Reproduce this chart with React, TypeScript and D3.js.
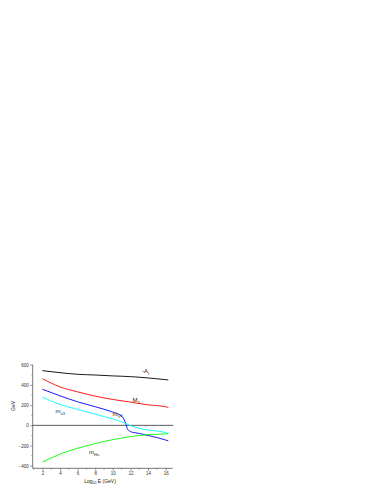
import { useRef, useEffect } from 'react'
import * as d3 from 'd3'

const W = 382
const H = 494

// log10 E (GeV) sample points
const energies = [2, 4, 6, 8, 10, 11, 12, 13, 14, 16, 16.3]
const aTop = [541, 521, 505, 498, 489, 486, 482, 476, 469, 452, 449]
const m3 = [462, 380, 331, 289, 256, 243, 230, 216, 203, 184, 177]
const mU3 = [279, 207, 157, 111, 62, 35, -3, -30, -46, -72, -85]
const mHu = [-364, -285, -226, -180, -141, -126, -111, -101, -92, -85, -82]

// m_Q3 has a sharp step near 10^11.5 GeV, so it gets its own sample points
const qEnergies = [2, 4, 6, 8, 10, 10.8, 11.3, 11.5, 11.65, 12, 13, 14, 16, 16.3]
const mQ3 = [357, 292, 233, 184, 131, 102, 55, 8, -34, -62, -80, -100, -145, -154]

const xTicks = [2, 4, 6, 8, 10, 12, 14, 16]
const yTicks = [-400, -200, 0, 200, 400, 600]

const series = [
  { name: 'A', xs: energies, values: aTop, color: '#000000' },
  { name: 'M3', xs: energies, values: m3, color: '#ff0000' },
  { name: 'mQ3', xs: qEnergies, values: mQ3, color: '#0000ff' },
  { name: 'mu3', xs: energies, values: mU3, color: '#00ffff' },
  { name: 'mHu', xs: energies, values: mHu, color: '#00ff00' },
]

const left = 32.7
const right = 172.7
const top = 364.7
const bottom = 468.3

const App = () => {
  const gRef = useRef<SVGGElement>(null)

  useEffect(() => {
    const svg = d3.select(gRef.current)
    svg.selectAll('*').remove()

    const x = d3.scaleLinear().domain([0.9, 16.8]).range([left, right])
    const y = d3.scaleLinear().domain([-425, 600]).range([bottom, top])

    const font = 'Arial, "Liberation Sans", sans-serif'

    // y axis
    const yAxis = d3.axisLeft(y).tickValues(yTicks).tickSize(2.5).tickPadding(1.5)
    const gy = svg.append('g').attr('transform', `translate(${left},0)`).call(yAxis)
    gy.select('.domain').attr('d', `M0,${bottom}V${top}`).attr('stroke', '#555').attr('stroke-width', 0.8)
    gy.selectAll('text').attr('font-size', 4.5).attr('font-family', font).attr('fill', '#333')
    gy.selectAll('.tick line').attr('stroke', '#555').attr('stroke-width', 0.6)
    svg.append('g').selectAll('line')
      .data(d3.range(-300, 600, 200))
      .join('line')
      .attr('x1', left - 1.5).attr('x2', left)
      .attr('y1', (d) => y(d)).attr('y2', (d) => y(d))
      .attr('stroke', '#555').attr('stroke-width', 0.5)

    // x axis
    const xAxis = d3.axisBottom(x).tickValues(xTicks).tickSize(2.5).tickPadding(1.5)
    const gx = svg.append('g').attr('transform', `translate(0,${bottom})`).call(xAxis)
    gx.select('.domain').attr('d', `M${left},0H${right}`).attr('stroke', '#555').attr('stroke-width', 0.8)
    gx.selectAll('text').attr('font-size', 4.5).attr('font-family', font).attr('fill', '#333')
    gx.selectAll('.tick line').attr('stroke', '#555').attr('stroke-width', 0.6)
    svg.append('g').selectAll('line')
      .data(d3.range(1, 17, 2))
      .join('line')
      .attr('x1', (d) => x(d)).attr('x2', (d) => x(d))
      .attr('y1', bottom).attr('y2', bottom + 1.5)
      .attr('stroke', '#555').attr('stroke-width', 0.5)

    // zero line
    svg.append('line')
      .attr('x1', left).attr('x2', right + 0.5)
      .attr('y1', y(0)).attr('y2', y(0))
      .attr('stroke', '#333').attr('stroke-width', 0.8)

    svg.append('g').selectAll('path')
      .data(series)
      .join('path')
      .attr('d', (s) => d3.line<number>()
        .x((_, i) => x(s.xs[i]))
        .y((v) => y(v))
        .curve(d3.curveMonotoneX)(s.values))
      .attr('fill', 'none')
      .attr('stroke', (s) => s.color)
      .attr('stroke-width', 0.9)
  }, [])

  const lab = { fontFamily: 'Arial, "Liberation Sans", sans-serif', fill: '#222' }

  return (
    <svg width={W} height={H}
      style={{ position: 'absolute', left: 0, top: 0, background: '#fff' }}>
      <g ref={gRef} />
      <text x={142} y={373} fontSize={6} style={lab}>-A<tspan fontSize={4} dy={1.5}>t</tspan></text>
      <text x={132.5} y={402} fontSize={6} style={lab}>M<tspan fontSize={4} dy={1.5}>3</tspan></text>
      <text x={112.5} y={415.5} fontSize={6} style={lab}>m<tspan fontSize={4} dy={1.5}>Q3</tspan></text>
      <text x={55.5} y={413} fontSize={6} style={lab}>m<tspan fontSize={4} dy={1.5}>u3</tspan></text>
      <text x={89} y={454} fontSize={6} style={lab}>m<tspan fontSize={4} dy={1.5}>Hu</tspan></text>
      <text x={0} y={0} fontSize={5} textAnchor="middle" style={lab}
        transform="translate(14.5,406) rotate(-90)">GeV</text>
      <text x={100} y={483} fontSize={5} textAnchor="middle" style={lab}>
        Log<tspan fontSize={3.5} dy={1}>10</tspan><tspan dy={-1}> E (GeV)</tspan>
      </text>
    </svg>
  )
}

export default App
